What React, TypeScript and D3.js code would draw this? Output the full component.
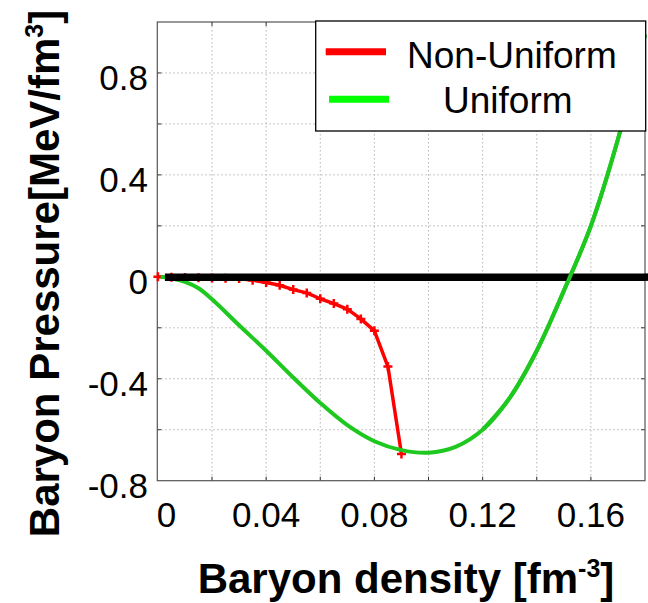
import React from "react";
import * as d3 from "d3";

// ---- data ----
const nonUniformX = [0, 0.005, 0.01, 0.015, 0.02, 0.025, 0.03, 0.035, 0.04, 0.045, 0.05, 0.055, 0.06, 0.065, 0.07, 0.075, 0.08, 0.085, 0.09];
const nonUniformY = [0, -0.002, -0.003, -0.004, -0.005, -0.006, -0.007, -0.013, -0.022, -0.033, -0.05, -0.063, -0.086, -0.105, -0.127, -0.165, -0.212, -0.352, -0.695];

const uniformX = [0.001, 0.005, 0.01, 0.015, 0.02, 0.03, 0.04, 0.05, 0.06, 0.07, 0.08, 0.09, 0.1, 0.11, 0.12, 0.13, 0.14, 0.15, 0.16, 0.17, 0.18];
const uniformY = [0, -0.006, -0.02, -0.045, -0.088, -0.19, -0.29, -0.395, -0.495, -0.582, -0.645, -0.68, -0.69, -0.667, -0.6, -0.475, -0.29, -0.055, 0.2, 0.54, 0.95];

const zeroLineX = [0.0026, 0.18];
const zeroLineY = [0, 0];

const xGridValues = [0.02, 0.04, 0.06, 0.08, 0.1, 0.12, 0.14, 0.16];
const yGridValues = [-0.6, -0.4, -0.2, 0, 0.2, 0.4, 0.6, 0.8];
const xTickValues = [0, 0.04, 0.08, 0.12, 0.16];
const xTickLabels = ["0", "0.04", "0.08", "0.12", "0.16"];
const yTickValues = [-0.8, -0.4, 0, 0.4, 0.8];
const yTickLabels = ["-0.8", "-0.4", "0", "0.4", "0.8"];

const seriesNames = ["Non-Uniform", "Uniform"];

export default function App() {
  const W = 648, H = 603;
  const L = 157.3, R = 645, T = 22, B = 480.7;
  const x = d3.scaleLinear().domain([0, 0.18]).range([157.9, 645]);
  const y = d3.scaleLinear().domain([-0.8, 1.0]).range([B, T]);

  const line = d3.line<[number, number]>().x(d => x(d[0])).y(d => y(d[1]));
  const smooth = d3.line<[number, number]>().x(d => x(d[0])).y(d => y(d[1])).curve(d3.curveCatmullRom.alpha(0.5));

  const red: [number, number][] = nonUniformX.map((v, i) => [v, nonUniformY[i]]);
  const green: [number, number][] = uniformX.map((v, i) => [v, uniformY[i]]);
  const greenRight = green.filter(d => d[0] >= 0.12);
  const zero: [number, number][] = zeroLineX.map((v, i) => [v, zeroLineY[i]]);

  const font = "'Liberation Sans', Arial, Helvetica, sans-serif";
  const tickLen = 4;

  return (
    <svg width={W} height={H} style={{ position: "absolute", left: 0, top: 0, background: "#fff" }} fontFamily={font}>
      <rect x={0} y={0} width={W} height={H} fill="#fff" />
      <defs>
        <clipPath id="plotclip">
          <rect x={L - 6} y={T} width={R - L + 12} height={B - T} />
        </clipPath>
      </defs>
      {/* grid */}
      {xGridValues.map(v => (
        <line key={"gx" + v} x1={x(v)} x2={x(v)} y1={T} y2={B} stroke="#b4b4b4" strokeWidth={1} strokeDasharray="1.5,2.5" />
      ))}
      {yGridValues.map(v => (
        <line key={"gy" + v} x1={L} x2={R} y1={y(v)} y2={y(v)} stroke="#b4b4b4" strokeWidth={1} strokeDasharray="1.5,2.5" />
      ))}
      {/* ticks */}
      {xGridValues.map(v => (
        <g key={"tx" + v}>
          <line x1={x(v)} x2={x(v)} y1={B} y2={B - tickLen} stroke="#333" strokeWidth={1} />
          <line x1={x(v)} x2={x(v)} y1={T} y2={T + tickLen} stroke="#333" strokeWidth={1} />
        </g>
      ))}
      {yGridValues.map(v => (
        <g key={"ty" + v}>
          <line x1={L} x2={L + tickLen} y1={y(v)} y2={y(v)} stroke="#333" strokeWidth={1} />
          <line x1={R} x2={R - tickLen} y1={y(v)} y2={y(v)} stroke="#333" strokeWidth={1} />
        </g>
      ))}
      {/* axes box */}
      <rect x={L} y={T} width={R - L} height={B - T} fill="none" stroke="#555" strokeWidth={1.2} />

      {/* curves */}
      <g clipPath="url(#plotclip)">
        <path d={line(red) || ""} fill="none" stroke="#ff0000" strokeWidth={3.5} strokeLinejoin="round" />
        {red.map((d, i) => (
          <g key={"m" + i} stroke="#ff0000" strokeWidth={2.5}>
            <line x1={x(d[0]) - 4.5} x2={x(d[0]) + 4.5} y1={y(d[1])} y2={y(d[1])} />
            <line x1={x(d[0])} x2={x(d[0])} y1={y(d[1]) - 4.5} y2={y(d[1]) + 4.5} />
          </g>
        ))}
        <path d={smooth(green) || ""} fill="none" stroke="#1ec81e" strokeWidth={4} strokeLinejoin="round" />
      </g>
      <path d={line(zero) || ""} fill="none" stroke="#000" strokeWidth={7.5} transform="translate(0,0.3)" />
      <g clipPath="url(#plotclip)">
        <path d={smooth(greenRight) || ""} fill="none" stroke="#1ec81e" strokeWidth={4} strokeLinejoin="round" />
      </g>
      <line x1={x(0.18)} x2={W} y1={y(0) + 0.3} y2={y(0) + 0.3} stroke="#000" strokeWidth={7.5} />

      {/* tick labels */}
      {xTickValues.map((v, i) => (
        <text key={"xl" + v} x={x(v) + (v === 0 ? 8.5 : 0)} y={527} fontSize={35} textAnchor="middle" fill="#000">
          {xTickLabels[i]}
        </text>
      ))}
      {yTickValues.map((v, i) => (
        <text key={"yl" + v} x={148} y={y(v) + 17} fontSize={35} textAnchor="end" fill="#000">
          {yTickLabels[i]}
        </text>
      ))}

      {/* axis labels */}
      <text x={406} y={593} fontSize={42} fontWeight="bold" textAnchor="middle" fill="#000">
        Baryon density [fm<tspan fontSize={25} dy={-16}>-3</tspan><tspan dy={16}>]</tspan>
      </text>
      <text transform="translate(59,273.5) rotate(-90)" fontSize={42} fontWeight="bold" textAnchor="middle" fill="#000">
        Baryon Pressure[MeV/fm<tspan fontSize={25} dy={-16}>3</tspan><tspan dy={16}>]</tspan>
      </text>

      {/* legend */}
      <rect x={315.7} y={21} width={330} height={110} fill="#fff" stroke="#000" strokeWidth={1.3} />
      <line x1={325.7} x2={386} y1={51.7} y2={51.7} stroke="#ff0000" strokeWidth={7} />
      <line x1={329} x2={389} y1={99.3} y2={99.3} stroke="#00ff00" strokeWidth={7} />
      <text x={407} y={68.3} fontSize={37} fill="#000">{seriesNames[0]}</text>
      <text x={443} y={112.7} fontSize={37} fill="#000">{seriesNames[1]}</text>
    </svg>
  );
}
